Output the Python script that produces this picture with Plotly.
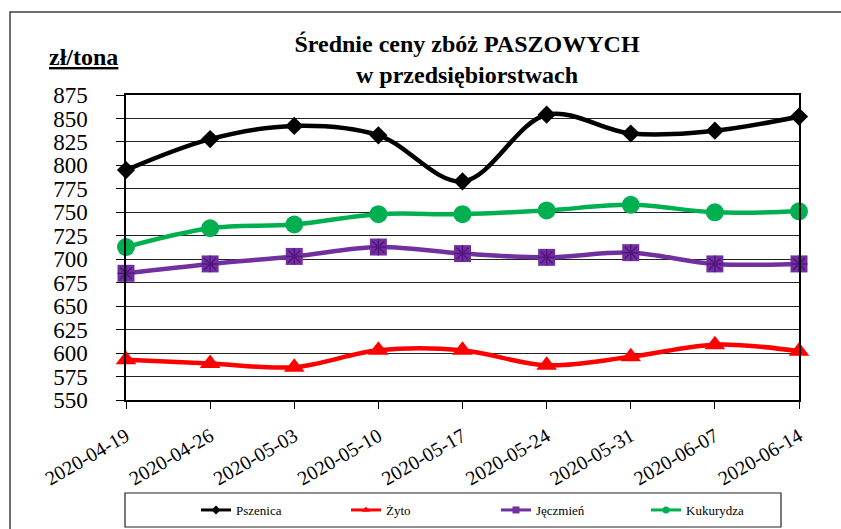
import plotly.graph_objects as go

dates = ["2020-04-19", "2020-04-26", "2020-05-03", "2020-05-10", "2020-05-17",
         "2020-05-24", "2020-05-31", "2020-06-07", "2020-06-14"]
pszenica = [795, 828, 842, 832, 783, 854, 834, 837, 852]
zyto = [593, 589, 585, 603, 603, 587, 596, 609, 602]
jeczmien = [685, 695, 703, 713, 706, 702, 707, 695, 695]
kukurydza = [713, 733, 737, 748, 748, 752, 758, 750, 751]
y_ticks = [550, 575, 600, 625, 650, 675, 700, 725, 750, 775, 800, 825, 850, 875]

SERIF = "Times New Roman, Liberation Serif, Tinos, DejaVu Serif, serif"

# plot area in pixels
L, R, T, B = 126, 799, 95, 400
W, H = 841, 529
pw, ph = R - L, B - T
px = lambda x: (x - L) / pw
py = lambda y: (B - y) / ph

fig = go.Figure()

def add_series(name, vals, color, symbol, size, lw=4.5):
    fig.add_trace(go.Scatter(
        x=dates, y=vals, mode="lines+markers", name=name, showlegend=False,
        line=dict(color=color, width=lw, shape="spline", smoothing=1.0),
        marker=dict(symbol=symbol, size=size, color=color, line=dict(width=0)),
        cliponaxis=False))

add_series("Pszenica", pszenica, "#000000", "diamond", 14)
add_series("Żyto", zyto, "#FF0000", "triangle-up", 18)
add_series("Jęczmień", jeczmien, "#7030A0", "square", 17)
fig.add_trace(go.Scatter(
    x=dates, y=jeczmien, mode="markers", showlegend=False,
    marker=dict(symbol="asterisk-open", size=14, color="#55157F",
                line=dict(width=1.5, color="#55157F")),
    cliponaxis=False, hoverinfo="skip"))
add_series("Kukurydza", kukurydza, "#00B050", "circle", 18)

# legend-only entries with small markers
for name, color, symbol in [("Pszenica", "#000000", "diamond"),
                            ("Żyto", "#FF0000", "triangle-up"),
                            ("Jęczmień", "#7030A0", "square"),
                            ("Kukurydza", "#00B050", "circle")]:
    fig.add_trace(go.Scatter(
        x=[None], y=[None], mode="lines+markers", name=name,
        line=dict(color=color, width=3),
        marker=dict(symbol=symbol, size=7, color=color)))

fig.update_layout(
    width=W, height=H,
    margin=dict(l=L, r=W - R, t=T, b=H - B, pad=0, autoexpand=False),
    paper_bgcolor="white", plot_bgcolor="white",
    font=dict(family=SERIF, color="black"),
    title=dict(text="<b>Średnie ceny zbóż PASZOWYCH<br>w przedsiębiorstwach</b>",
               x=467 / W, xanchor="center", xref="container",
               y=1 - 52 / H, yanchor="middle", yref="container",
               font=dict(family=SERIF, size=24, color="black")),
    showlegend=True,
    legend=dict(orientation="h", x=px(196), xanchor="left", y=py(510), yanchor="middle",
                entrywidth=105, entrywidthmode="pixels",
                font=dict(family=SERIF, size=13, color="black"),
                bgcolor="rgba(0,0,0,0)", borderwidth=0),
    xaxis=dict(type="category", range=[0, len(dates) - 1],
               showgrid=False, showline=True, linecolor="black", linewidth=1.5,
               mirror=True, ticks="outside", ticklen=7, tickcolor="black", tickwidth=1,
               tickangle=-30, ticklabelstandoff=8,
               tickfont=dict(family=SERIF, size=20, color="black")),
    yaxis=dict(range=[550, 875], tickvals=y_ticks,
               showgrid=True, gridcolor="#222222", gridwidth=1,
               showline=True, linecolor="black", linewidth=1.5, mirror=True,
               ticks="outside", ticklen=8, tickcolor="black", tickwidth=1,
               ticklabelstandoff=24, zeroline=False,
               tickfont=dict(family=SERIF, size=23, color="black")),
    annotations=[dict(text="<b><u>zł/tona</u></b>", xref="paper", yref="paper",
                      x=px(47), y=py(57), xanchor="left", yanchor="middle",
                      showarrow=False, font=dict(family=SERIF, size=24, color="black"))],
    shapes=[
        dict(type="rect", xref="paper", yref="paper",
             x0=px(10), x1=px(850), y0=py(540), y1=py(12),
             line=dict(color="#404040", width=1.5), layer="below"),
        dict(type="rect", xref="paper", yref="paper",
             x0=px(125), x1=px(781), y0=py(527), y1=py(493),
             line=dict(color="#222222", width=1.2)),
    ],
)

fig.write_html("out.html", config={"displayModeBar": False},
               post_script="document.body.style.margin='0';document.body.style.overflow='hidden';")
